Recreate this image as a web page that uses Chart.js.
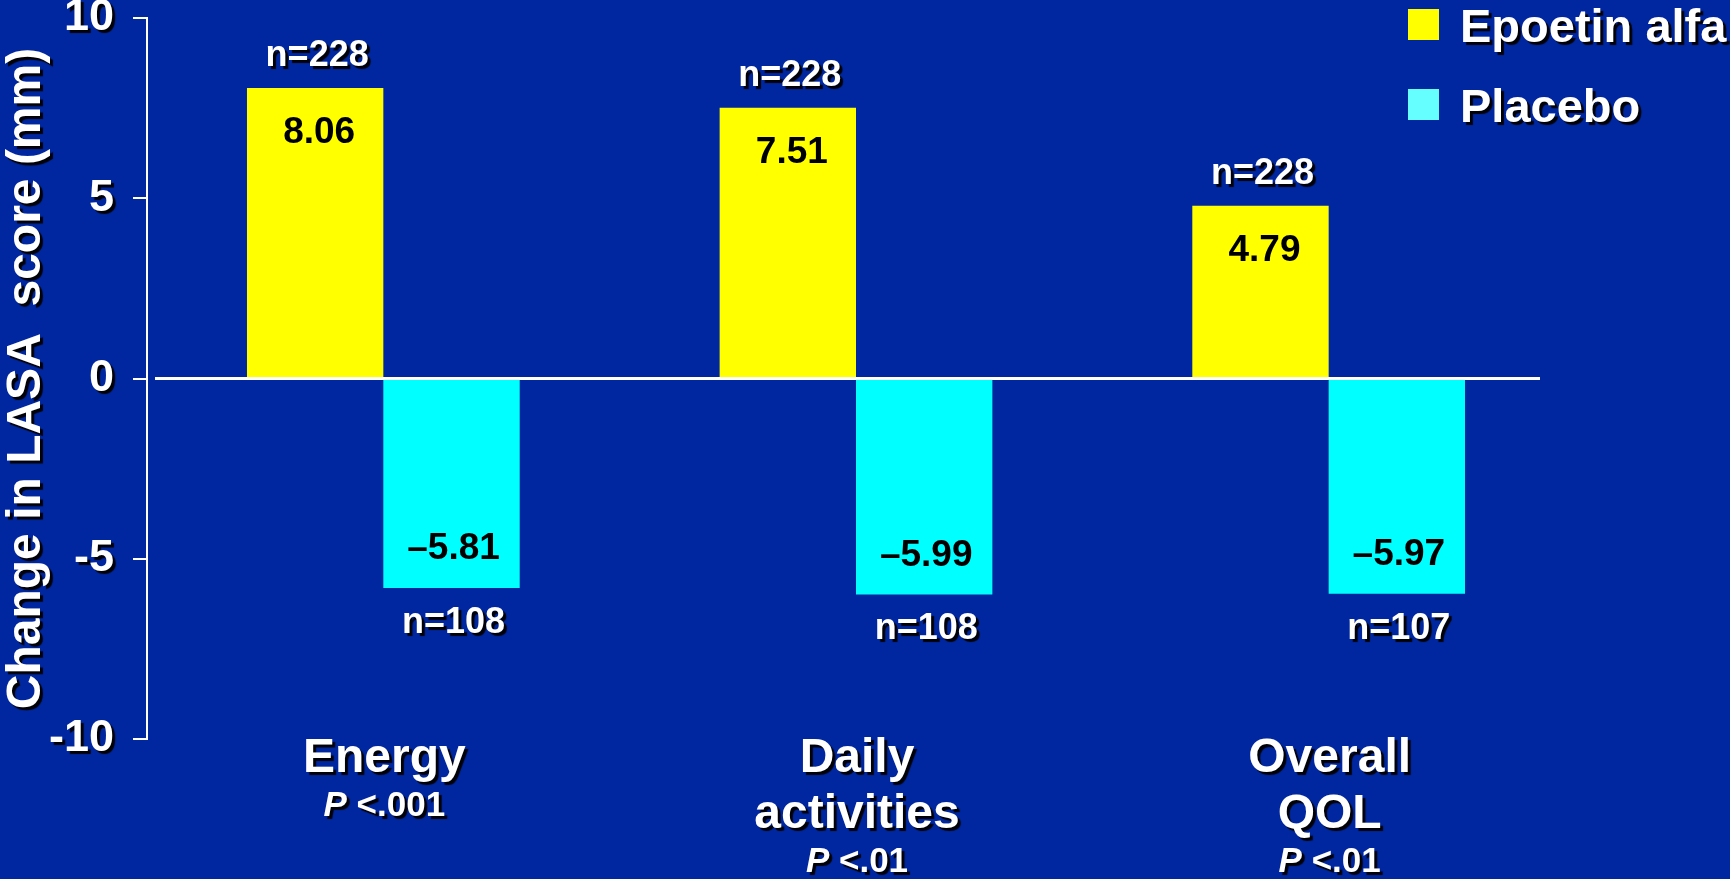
<!DOCTYPE html>
<html>
<head>
<meta charset="utf-8">
<script src="https://cdn.jsdelivr.net/npm/chart.js@4.4.0/dist/chart.umd.min.js"></script>
<style>
  html, body { margin: 0; padding: 0; background: #0027a0; overflow: hidden; }
  #wrap { width: 1730px; height: 879px; position: relative; }
</style>
</head>
<body>
<div id="wrap"><canvas id="chart"></canvas></div>
<script>
// values
let categories = [["Energy"], ["Daily", "activities"], ["Overall", "QOL"]];
let pValues = ["<.001", "<.01", "<.01"];
let seriesNames = ["Epoetin alfa", "Placebo"];
let epoetinValues = [8.06, 7.51, 4.79];
let placeboValues = [-5.81, -5.99, -5.97];
let epoetinN = [228, 228, 228];
let placeboN = [108, 108, 107];
let yTicks = [10, 5, 0, -5, -10];

const FONT = "'Liberation Sans', Arial, Helvetica, sans-serif";
const barColors = ["#ffff00", "#00ffff"];
const legendColors = ["#ffff00", "#66ffff"];

// black drop shadow used on all the white text
function withShadow(ctx, fn) {
    ctx.save();
    ctx.shadowColor = "rgba(0,0,0,0.95)";
    ctx.shadowOffsetX = 3;
    ctx.shadowOffsetY = 3;
    ctx.shadowBlur = 1;
    fn();
    ctx.restore();
}

function fmtValue(v) {
    return (v < 0 ? "\u2013" : "") + Math.abs(v).toFixed(2);
}

// put the shadow on the y tick labels and title only
const shadowAxis = {
    id: "shadowAxis",
    afterUpdate(chart) {
        let s = chart.scales.y;
        if (s._wrapped) return;
        s._wrapped = true;
        let lab = s.drawLabels, tit = s.drawTitle;
        s.drawLabels = function(a) { withShadow(chart.ctx, () => lab.call(s, a)); };
        s.drawTitle = function() { withShadow(chart.ctx, () => tit.call(s)); };
    }
};

// white zero line across the bars
const zeroLine = {
    id: "zeroLine",
    afterDatasetsDraw(chart) {
        let ctx = chart.ctx, area = chart.chartArea;
        let y0 = chart.scales.y.getPixelForValue(0);
        ctx.save();
        ctx.strokeStyle = "#ffffff";
        ctx.lineWidth = 3;
        ctx.beginPath();
        ctx.moveTo(area.left + 8, y0);
        ctx.lineTo(area.right - 25, y0);
        ctx.stroke();
        ctx.restore();
    }
};

// value labels inside bars, n= labels outside
const barLabels = {
    id: "barLabels",
    afterDatasetsDraw(chart) {
        let ctx = chart.ctx;
        chart.data.datasets.forEach((ds, di) => {
            let meta = chart.getDatasetMeta(di);
            meta.data.forEach((el, i) => {
                let v = ds.data[i];
                let up = v >= 0;
                ctx.save();
                ctx.textAlign = "center";
                ctx.textBaseline = "middle";
                ctx.fillStyle = "#000000";
                ctx.font = "bold 37px " + FONT;
                ctx.fillText(fmtValue(v), el.x + (up ? 4 : 2), up ? el.y + 45 : el.y - 39);
                ctx.restore();

                withShadow(ctx, () => {
                    ctx.textAlign = "center";
                    ctx.textBaseline = "middle";
                    ctx.fillStyle = "#ffffff";
                    ctx.font = "bold 36px " + FONT;
                    ctx.fillText("n=" + ds.nValues[i], el.x + 2, up ? el.y - 32 : el.y + 35);
                });
            });
        });
    }
};

// category names and P values under the plot
const catLabels = {
    id: "catLabels",
    afterDraw(chart) {
        let ctx = chart.ctx;
        let xs = chart.scales.x;
        let bottom = chart.chartArea.bottom;
        categories.forEach((lines, i) => {
            let x = xs.getPixelForValue(i) + 1;
            withShadow(ctx, () => {
                ctx.fillStyle = "#ffffff";
                ctx.textBaseline = "alphabetic";
                ctx.textAlign = "center";
                ctx.font = "bold 48px " + FONT;
                let y = bottom + 33;
                lines.forEach((ln, k) => {
                    ctx.fillText(ln, x, y + k * 56);
                });
                let py = y + (lines.length - 1) * 56 + 44;
                ctx.textAlign = "left";
                let pFont = "italic bold 35px " + FONT;
                let rFont = "bold 35px " + FONT;
                let rest = " " + pValues[i];
                ctx.font = pFont;
                let w1 = ctx.measureText("P").width;
                ctx.font = rFont;
                let w2 = ctx.measureText(rest).width;
                let start = x - (w1 + w2) / 2;
                ctx.font = pFont;
                ctx.fillText("P", start, py);
                ctx.font = rFont;
                ctx.fillText(rest, start + w1, py);
            });
        });
    }
};

// legend in the top right corner
const cornerLegend = {
    id: "cornerLegend",
    afterDraw(chart) {
        let ctx = chart.ctx;
        let x0 = chart.width - 322;
        chart.data.datasets.forEach((ds, i) => {
            let top = 9 + i * 80;
            ctx.save();
            ctx.fillStyle = legendColors[i];
            ctx.fillRect(x0, top, 31, 31);
            ctx.restore();
            withShadow(ctx, () => {
                ctx.fillStyle = "#ffffff";
                ctx.font = "bold 47px " + FONT;
                ctx.textAlign = "left";
                ctx.textBaseline = "alphabetic";
                ctx.fillText(ds.label, x0 + 52, top + 33);
            });
        });
    }
};

let context = document.getElementById("chart").getContext("2d");

new Chart(context, {
    type: "bar",
    data: {
        labels: categories.map(c => c.join(" ")),
        datasets: [
            { label: seriesNames[0], data: epoetinValues, backgroundColor: barColors[0], nValues: epoetinN },
            { label: seriesNames[1], data: placeboValues, backgroundColor: barColors[1], nValues: placeboN }
        ]
    },
    options: {
        responsive: true,
        maintainAspectRatio: false,
        animation: false,
        layout: { padding: { top: 18, right: 165, bottom: 140, left: 0 } },
        datasets: { bar: { categoryPercentage: 0.577, barPercentage: 1 } },
        plugins: {
            legend: { display: false },
            tooltip: { enabled: false }
        },
        scales: {
            x: { display: false, offset: true },
            y: {
                min: -10,
                max: 10,
                afterBuildTicks: s => { s.ticks = yTicks.map(v => ({ value: v })); },
                afterFit: s => { s.width = 147; s.paddingTop = 0; s.paddingBottom = 0; },
                grid: {
                    drawOnChartArea: false,
                    drawTicks: true,
                    tickLength: 14,
                    color: "#ffffff",
                    lineWidth: 2
                },
                border: { display: true, color: "#ffffff", width: 2 },
                ticks: {
                    color: "#ffffff",
                    padding: 19,
                    font: { family: FONT, size: 45, weight: "bold" }
                },
                title: {
                    display: true,
                    text: "Change in LASA  score (mm)",
                    color: "#ffffff",
                    padding: 0,
                    font: { family: FONT, size: 48, weight: "bold", lineHeight: 1.1 }
                }
            }
        }
    },
    plugins: [shadowAxis, zeroLine, barLabels, catLabels, cornerLegend]
});
</script>
</body>
</html>
